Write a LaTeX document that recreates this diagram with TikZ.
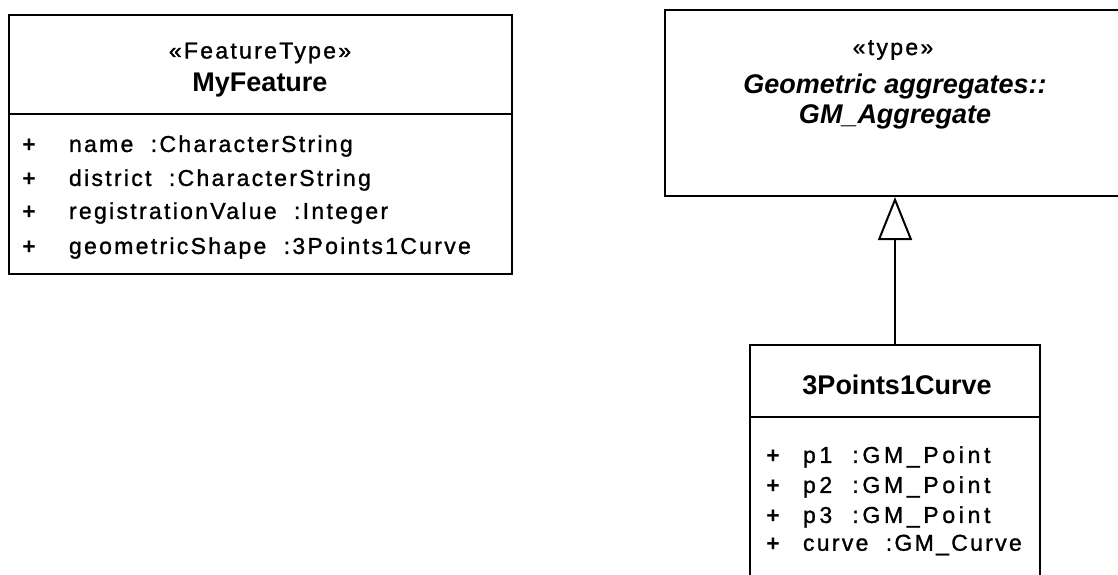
\documentclass[tikz,border=0pt]{standalone}
\usepackage{fontspec}
\setmainfont{Liberation Sans}
\newfontfamily\spaced[LetterSpace=10, FakeBold=1.2]{Liberation Sans}
\newfontfamily\wide[LetterSpace=16, FakeBold=1.2]{Liberation Sans}
\usetikzlibrary{arrows.meta}

\begin{document}
\begin{tikzpicture}[x=1pt, y=-1pt, line width=2pt,
  box/.style={draw, rectangle, inner sep=0pt},
  plus/.style={inner sep=0pt, font=\bfseries\fontsize{23}{27}\selectfont},
  attr/.style={anchor=west, inner sep=0pt, font=\spaced\fontsize{23}{27}\selectfont},
  wattr/.style={anchor=west, inner sep=0pt, font=\wide\fontsize{23}{27}\selectfont},
  stereo/.style={inner sep=0pt, font=\spaced\fontsize{23}{27}\selectfont},
  title/.style={inner sep=0pt, font=\bfseries\fontsize{27}{31}\selectfont}]
\useasboundingbox (0,0) rectangle (1118,574);
\clip (0,0) rectangle (1118,574);

% MyFeature
\node[box, minimum width=503pt, minimum height=259pt] (feat) at (260.5,144.5) {};
\draw (feat.west |- 0,114) -- (feat.east |- 0,114);
\node[stereo] (featst) at (260,53) {«FeatureType»};
\node[title] (featname) at (260,85) {MyFeature};
\node[plus] (fp1) at (29,146) {+};
\node[attr] (fa1) at (68,146) {name~ :CharacterString};
\node[plus] (fp2) at (29,180) {+};
\node[attr] (fa2) at (68,180) {district~ :CharacterString};
\node[plus] (fp3) at (29,213) {+};
\node[attr] (fa3) at (68,213) {registrationValue~ :Integer};
\node[plus] (fp4) at (29,248) {+};
\node[attr] (fa4) at (68,248) {geometricShape~ :3Points1Curve};

% GM_Aggregate
\node[box, minimum width=456pt, minimum height=186pt] (agg) at (893,103) {};
\node[stereo] (aggst) at (893,50) {«type»};
\node[title, font=\bfseries\itshape\fontsize{27}{31}\selectfont] (aggname1) at (895,87) {Geometric aggregates::};
\node[title, font=\bfseries\itshape\fontsize{27}{31}\selectfont] (aggname2) at (895,117) {GM\_Aggregate};

% 3Points1Curve
\node[box, minimum width=290pt, minimum height=255pt] (curve) at (895,472.5) {};
\draw (curve.west |- 0,417) -- (curve.east |- 0,417);
\node[title] (curvename) at (897,385) {3Points1Curve};
\node[plus] (cp1) at (773,457) {+};
\node[wattr] (ca1) at (802,457) {p1~ :GM\_Point};
\node[plus] (cp2) at (773,487) {+};
\node[wattr] (ca2) at (802,487) {p2~ :GM\_Point};
\node[plus] (cp3) at (773,517) {+};
\node[wattr] (ca3) at (802,517) {p3~ :GM\_Point};
\node[plus] (cp4) at (773,545) {+};
\node[attr] (ca4) at (802,545) {curve~ :GM\_Curve};

\draw[-{Triangle[open, length=43pt, width=34pt]}] (curve.north) -- (curve.north |- agg.south);

\end{tikzpicture}
\end{document}
